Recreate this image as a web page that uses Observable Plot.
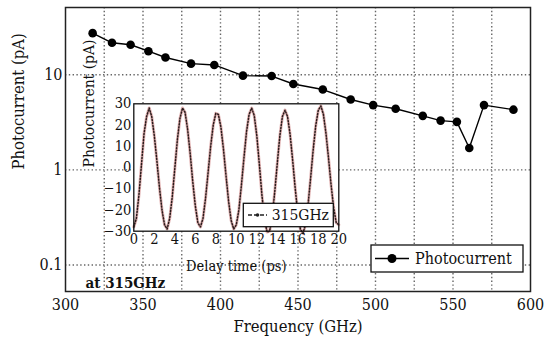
<!DOCTYPE html>
<html><head><meta charset="utf-8">
<script src="https://cdn.jsdelivr.net/npm/d3@7"></script>
<script src="https://cdn.jsdelivr.net/npm/@observablehq/plot@0.6"></script>
<style>
html,body{margin:0;padding:0;background:#fff;}
#wrap{position:relative;width:545px;height:339px;overflow:hidden;}
#wrap svg{position:absolute;overflow:visible;}
</style></head><body><div id="wrap"></div>
<script>
// Main series: photocurrent vs frequency
const frequency = [317.5, 330, 342, 353.5, 364.5, 381, 396, 414.5, 433, 447, 466, 484, 498.5, 513, 530.5, 542, 552.5, 560.5, 570, 589];
const photocurrent = [27.4, 21.7, 20.7, 17.7, 15.2, 13.1, 12.7, 9.8, 9.7, 8.0, 7.0, 5.5, 4.8, 4.4, 3.7, 3.3, 3.2, 1.7, 4.8, 4.3];
const xTicks = [300, 350, 400, 450, 500, 550, 600];
const xGrid = [325, 350, 375, 400, 425, 450, 475, 500, 525, 550, 575];
const yTicks = [0.1, 1, 10];
const xDomain = [300, 600];
const yDomain = [0.0527, 51];

// Inset: waveform at 315 GHz
const delay = [0,0.25,0.5,0.75,1,1.25,1.5,1.75,2,2.25,2.5,2.75,3,3.25,3.5,3.75,4,4.25,4.5,4.75,5,5.25,5.5,5.75,6,6.25,6.5,6.75,7,7.25,7.5,7.75,8,8.25,8.5,8.75,9,9.25,9.5,9.75,10,10.25,10.5,10.75,11,11.25,11.5,11.75,12,12.25,12.5,12.75,13,13.25,13.5,13.75,14,14.25,14.5,14.75,15,15.25,15.5,15.75,16,16.25,16.5,16.75,17,17.25,17.5,17.75,18,18.25,18.5,18.75,19,19.25,19.5,19.75,20];
const current = [-28,-24,-13,1.5,16,24,28,24,15,3.3,-9.3,-20,-27,-29,-24,-14,-0.5,13,23,28,26,18,6.6,-6.6,-18,-26,-28,-24,-14.5,-2.3,10,20,25.5,25,19,8.5,-4,-16,-25,-29,-27,-20,-8.3,4.7,17,25,28,24.5,15,1.4,-13,-24,-30.4,-30,-23,-11.5,2,15,24,27,24,15.5,3.3,-10,-21.5,-29,-31,-27,-17.6,-5,8.3,19.7,27,29,25,16,4.3,-8.3,-19,-26,-27];
const insetXTicks = [0,2,4,6,8,10,12,14,16,18,20];
const insetYTicks = [-30,-20,-10,0,10,20,30];

const font = "DejaVu Serif Condensed, DejaVu Serif";
const mainData = frequency.map((f, i) => ({f, p: photocurrent[i]}));
const wave = delay.map((t, i) => ({t, v: current[i]}));

const main = Plot.plot({
  width: 545, height: 339,
  marginLeft: 65, marginRight: 15, marginTop: 7, marginBottom: 48,
  style: {background: "white", color: "#111", fontFamily: font},
  x: {domain: xDomain},
  y: {type: "log", domain: yDomain},
  marks: [
    Plot.ruleX(xGrid, {stroke: "#666", strokeWidth: 1.4, strokeDasharray: "1.4 2.4"}),
    Plot.ruleY(yTicks, {stroke: "#666", strokeWidth: 1.4, strokeDasharray: "1.4 2.4"}),
    Plot.axisX(xTicks, {tickSize: 0, tickPadding: 7, fontSize: 16, fontFamily: font, label: null}),
    Plot.axisY(yTicks, {tickSize: 0, tickPadding: 3, fontSize: 16, fontFamily: font, tickFormat: d => String(d), label: null}),
    Plot.text(["Frequency (GHz)"], {frameAnchor: "bottom", dy: 35, fontSize: 16.5, fontFamily: font, lineAnchor: "middle"}),
    Plot.text(["Photocurrent (pA)"], {frameAnchor: "left", dx: -47, dy: 20, rotate: -90, fontSize: 16.5, fontFamily: font, lineAnchor: "middle"}),
    Plot.line(mainData, {x: "f", y: "p", stroke: "black", strokeWidth: 1.4}),
    Plot.dot(mainData, {x: "f", y: "p", r: 4.3, fill: "black"}),
    Plot.text(["at 315GHz"], {frameAnchor: "bottom-left", dx: 20, dy: -4, fontSize: 15, fontFamily: font, fontWeight: "bold", textAnchor: "start", lineAnchor: "bottom"}),
    Plot.frame({stroke: "#222", strokeWidth: 1.5})
  ]
});
main.style.left = "0px"; main.style.top = "0px";

// main legend
{
  const g = d3.select(main).append("g").attr("text-anchor", "start");
  g.append("rect").attr("x", 371).attr("y", 245).attr("width", 152).attr("height", 27)
    .attr("fill", "white").attr("stroke", "#111").attr("stroke-width", 1.3);
  g.append("line").attr("x1", 375).attr("x2", 409).attr("y1", 258.5).attr("y2", 258.5)
    .attr("stroke", "black").attr("stroke-width", 1.4);
  g.append("circle").attr("cx", 392).attr("cy", 258.5).attr("r", 4.5).attr("fill", "black");
  g.append("text").attr("x", 415).attr("y", 258.5).attr("dy", "0.35em").attr("font-size", 16)
    .attr("font-family", font).attr("text-anchor", "start").attr("fill", "#111").text("Photocurrent");
}

const inset = Plot.plot({
  width: 280, height: 190,
  marginLeft: 63.3, marginTop: 13.3, marginRight: 11.7, marginBottom: 49.3,
  style: {background: "transparent", color: "#111", overflow: "visible", fontFamily: font},
  x: {domain: [0, 20]},
  y: {domain: [-30, 30]},
  marks: [
    Plot.frame({fill: "white", stroke: "none"}),
    Plot.line(wave, {x: "t", y: "v", stroke: "#e2b4b4", strokeWidth: 3}),
    Plot.line(wave, {x: "t", y: "v", stroke: "#2a1c1c", strokeWidth: 1.5, strokeDasharray: "1.2 1.8"}),
    Plot.axisX(insetXTicks, {tickSize: 0, tickPadding: 3, fontSize: 14.5, fontFamily: font, label: null}),
    Plot.axisY(insetYTicks, {tickSize: 0, tickPadding: 2.5, fontSize: 14.5, fontFamily: font, label: null}),
    Plot.text(["Delay time (ps)"], {frameAnchor: "bottom", dy: 35, fontSize: 14.5, fontFamily: font, lineAnchor: "middle"}),
    Plot.text(["Photocurrent (pA)"], {frameAnchor: "left", dx: -45, rotate: -90, fontSize: 15.5, fontFamily: font, lineAnchor: "middle"}),
    Plot.frame({stroke: "#111", strokeWidth: 1.3})
  ]
});
inset.style.left = "70px"; inset.style.top = "90px";

// inset legend
{
  const g = d3.select(inset).append("g").attr("text-anchor", "start");
  g.append("rect").attr("x", 173.3).attr("y", 113.3).attr("width", 90).attr("height", 23.4)
    .attr("fill", "white").attr("stroke", "#111").attr("stroke-width", 1.3);
  g.append("line").attr("x1", 178).attr("x2", 197).attr("y1", 125).attr("y2", 125)
    .attr("stroke", "#222").attr("stroke-width", 1.3).attr("stroke-dasharray", "4 2");
  g.append("circle").attr("cx", 187.5).attr("cy", 125).attr("r", 1.8).attr("fill", "#222");
  g.append("text").attr("x", 201.7).attr("y", 125).attr("dy", "0.35em").attr("font-size", 15.5)
    .attr("font-family", font).attr("text-anchor", "start").attr("fill", "#111").text("315GHz");
}

const wrap = document.getElementById("wrap");
wrap.appendChild(main);
wrap.appendChild(inset);
</script></body></html>
